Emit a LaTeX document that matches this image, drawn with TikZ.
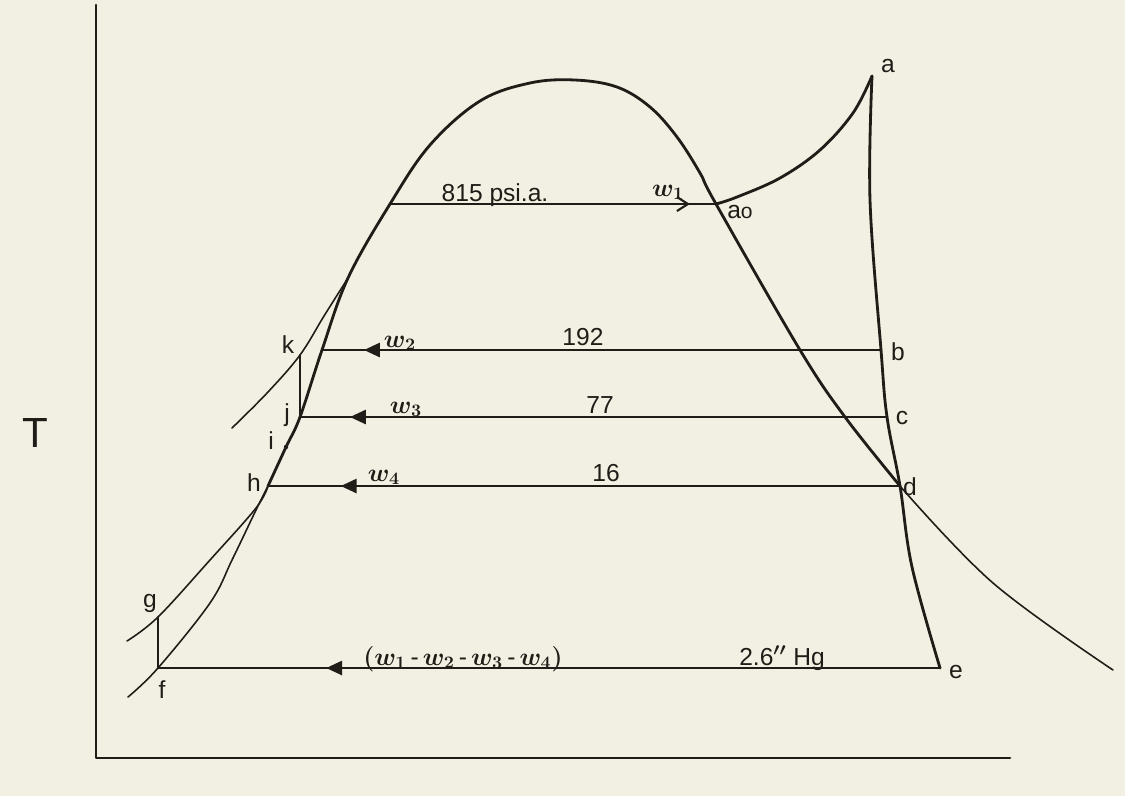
\documentclass[tikz,border=0pt]{standalone}
\usepackage{fontspec}
\setmainfont{Liberation Sans}
\usetikzlibrary{arrows.meta, decorations.markings}

\definecolor{paper}{RGB}{242,240,226}
\definecolor{ink}{RGB}{32,28,24}

\begin{document}
\begin{tikzpicture}[
  x=0.02cm, y=-0.02cm,
  line/.style={ink, line width=1.6pt, line join=round, line cap=round},
  thinline/.style={ink, line width=0.9pt, line cap=round},
  leftarrow/.style={postaction={decorate, decoration={markings,
      mark=at position #1 with {\arrow{Triangle[length=3.2mm, width=2.8mm]}}}}},
  rightarrow/.style={postaction={decorate, decoration={markings,
      mark=at position #1 with {\arrow{Straight Barb[length=2.2mm, width=2.8mm, line width=1.2pt]}}}}},
  lbl/.style={text=ink, font=\fontsize{14}{16}\selectfont\boldmath, inner sep=1pt},
  every node/.style={text=ink}
]

% paper
\fill[paper] (0,0) rectangle (1125,796);
\useasboundingbox (0,0) rectangle (1125,796);

% axes
\coordinate (axtop) at (96,5);
\coordinate (origin) at (96,758);
\coordinate (axright) at (1010,758);
\draw[line] (axtop) -- (origin) -- (axright);
\node[text=ink, font=\fontsize{24}{26}\selectfont] (T) at (35,433) {T};

% state points
\coordinate (a)  at (872,76);
\coordinate (ao) at (716,204);
\coordinate (b)  at (881,350);
\coordinate (c)  at (887,417);
\coordinate (d)  at (900,486);
\coordinate (e)  at (940,668);
\coordinate (f)  at (158,668);
\coordinate (g)  at (158,617);
\coordinate (h)  at (268,486);
\coordinate (i)  at (286,447);
\coordinate (j)  at (300,417);
\coordinate (k)  at (300,355);
\coordinate (hp) at (390,204);
\coordinate (bl) at (322,350);
\coordinate (fork) at (348,278);

% saturation dome
\draw[line] plot[smooth, tension=0.6] coordinates {(h) (i) (j) (bl) (fork) (hp)
  (430,145) (480,101) (530,83) (575,80) (617,87) (650,107) (677,137)
  (700,173) (ao) (800,350) (845,417) (d)};
\draw[thinline] plot[smooth, tension=0.6] coordinates {(d) (993,583) (1113,670)};
\draw[thinline] plot[smooth, tension=0.6] coordinates {(h) (256,510) (232,560)
  (210,603) (f) (128,697)};
\draw[thinline] plot[smooth, tension=0.6] coordinates {(h) (256,508) (210,560)
  (g) (127,641)};
\draw[thinline] plot[smooth, tension=0.6] coordinates {(fork) (324,316) (k)
  (268,392) (232,428)};

% feed pump steps
\draw[thinline] (k) -- (j);
\draw[thinline] (g) -- (f);
\fill[ink] (i) circle (2.2);

% superheat and expansion
\draw[line] plot[smooth, tension=0.6] coordinates {(ao) (737,197) (780,178)
  (820,150) (853,113) (a)};
\draw[line] plot[smooth, tension=0.6] coordinates {(a) (870,200) (b) (c) (d)
  (912,567) (e)};

% pressure lines
\draw[line, rightarrow=0.92] (hp) -- (ao);
\draw[line, leftarrow=0.925] (b) -- (bl);
\draw[line, leftarrow=0.915] (c) -- (j);
\draw[line, leftarrow=0.885] (d) -- (h);
\draw[line, leftarrow=0.785] (e) -- (f);

% line texts
\node[lbl, anchor=base] (p1) at (495,201) {815 psi.a.};
\node[lbl, anchor=base] (w1) at (668,196) {$w_1$};
\node[lbl, anchor=base] (w2) at (400,347) {$w_2$};
\node[lbl, anchor=base] (p2) at (583,345) {192};
\node[lbl, anchor=base] (w3) at (406,413) {$w_3$};
\node[lbl, anchor=base] (p3) at (600,413) {77};
\node[lbl, anchor=base] (w4) at (384,481) {$w_4$};
\node[lbl, anchor=base] (p4) at (606,481) {16};
\node[lbl, anchor=base] (wnet) at (463,665)
  {$(w_1$\,-\,$w_2$\,-\,$w_3$\,-\,$w_4)$};
\node[lbl, anchor=base] (p5) at (782,665) {2.6$''$ Hg};

% point labels
\node[lbl] (la)  at (888,66)  {a};
\node[lbl] (lao) at (740,212) {a{\fontsize{12}{14}\selectfont o}};
\node[lbl] (lb)  at (898,352) {b};
\node[lbl] (lc)  at (902,418) {c};
\node[lbl] (ld)  at (910,487) {d};
\node[lbl] (le)  at (956,672) {e};
\node[lbl] (lf)  at (162,690) {f};
\node[lbl] (lg)  at (150,603) {g};
\node[lbl] (lh)  at (254,483) {h};
\node[lbl] (li)  at (271,441) {i};
\node[lbl] (lj)  at (287,415) {j};
\node[lbl] (lk)  at (288,345) {k};

\end{tikzpicture}
\end{document}
